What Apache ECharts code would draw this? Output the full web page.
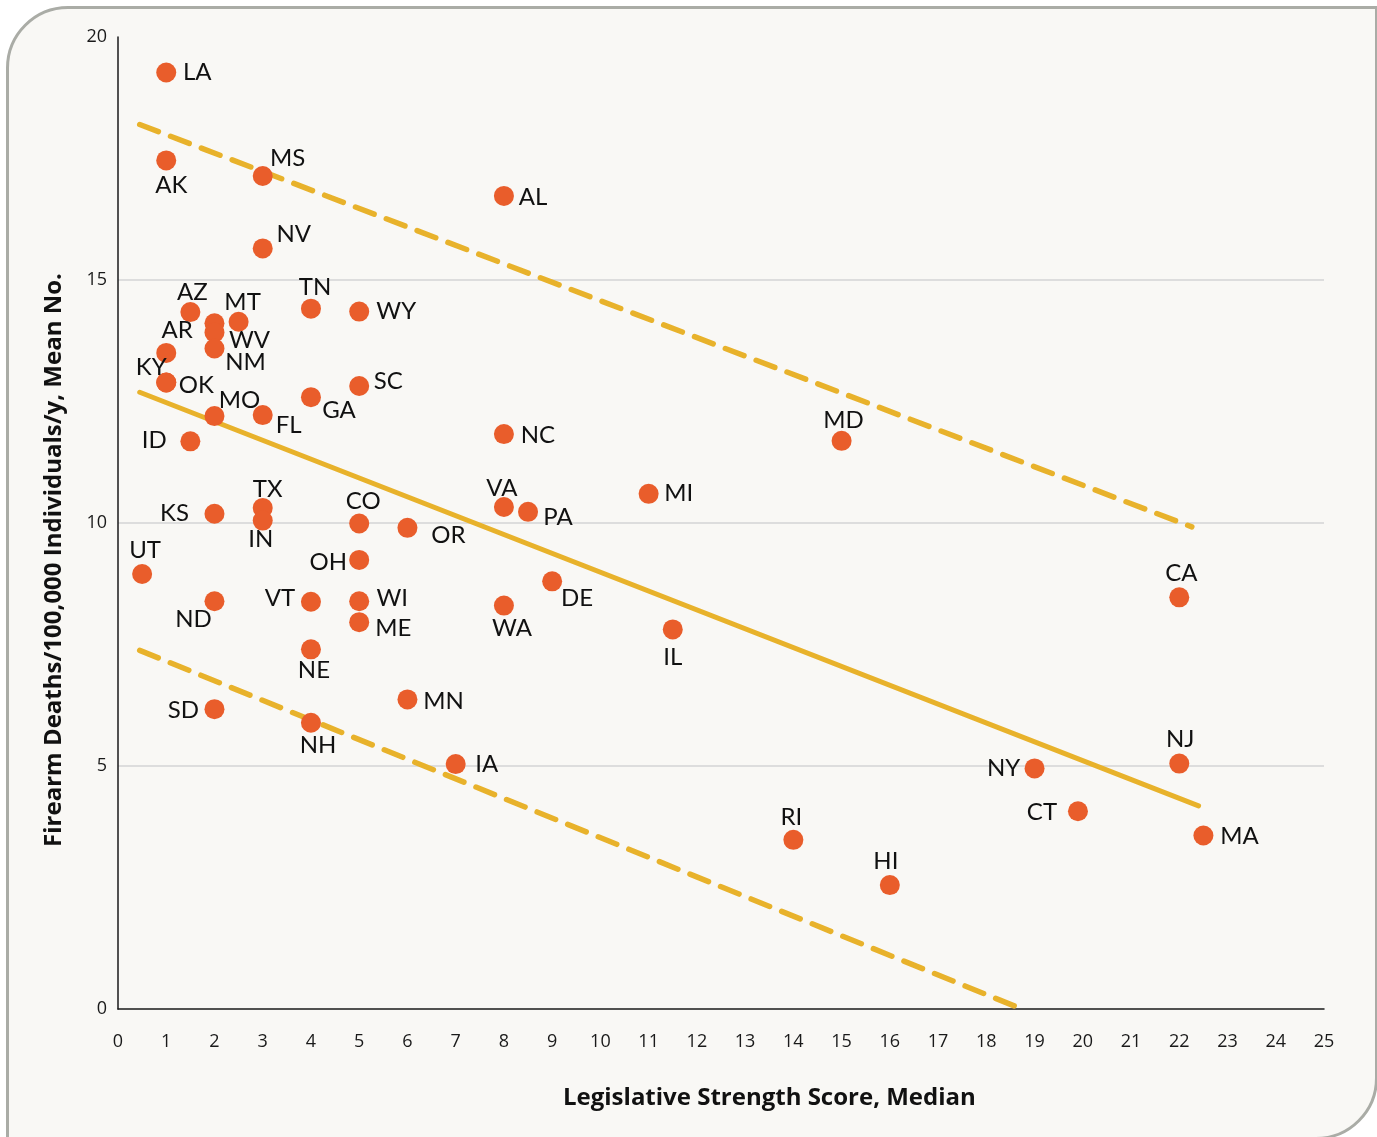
<!DOCTYPE html>
<html>
<head>
<meta charset="utf-8">
<script src="https://cdn.jsdelivr.net/npm/echarts@6/dist/echarts.min.js"></script>
<style>
  html, body { margin: 0; padding: 0; background: #ffffff; }
  #frame { position: absolute; left: 6px; top: 6px; width: 1366px; height: 1128px;
           background: #f9f8f5; border: 3px solid #aaaca6; border-radius: 62px 0 62px 0; }
  #chart { position: absolute; left: 0; top: 0; width: 1377px; height: 1137px; }
</style>
</head>
<body>
<div id="frame"></div>
<div id="chart"></div>
<script>
// ---- data ----
const states = ['LA','AK','MS','NV','AL','AZ','MT','','WV','NM','TN','WY','AR','KY','OK','MO','FL','SC','GA','NC',
  'ID','MD','TX','IN','KS','CO','OR','VA','PA','MI','UT','OH','ND','VT','WI','ME','NE','DE','WA','IL',
  'CA','MN','SD','NH','IA','NJ','NY','CT','MA','RI','HI'];
const scores = [1,1,3,3,8,1.5,2.5,2,2,2,4,5,1,1,1,2,3,5,4,8,
  1.5,15,3,3,2,5,6,8,8.5,11,0.5,5,2,4,5,5,4,9,8,11.5,
  22,6,2,4,7,22,19,19.9,22.5,14,16];
const deaths = [19.27,17.46,17.14,15.65,16.73,14.34,14.14,14.11,13.92,13.59,14.41,14.35,13.50,12.89,12.89,12.20,12.22,12.82,12.59,11.83,
  11.68,11.69,10.31,10.05,10.19,9.99,9.90,10.33,10.23,10.60,8.95,9.24,8.39,8.38,8.39,7.96,7.40,8.80,8.30,7.81,
  8.47,6.37,6.17,5.89,5.04,5.05,4.95,4.07,3.57,3.48,2.55];
const fitX = [0.45, 22.4];
const fitY = [12.69, 4.18];
const upperX = [0.45, 22.26];
const upperY = [18.2, 9.92];
const lowerX = [0.45, 18.66];
const lowerY = [7.38, 0.03];
const xTitle = 'Legislative Strength Score, Median';
const yTitle = 'Firearm Deaths/100,000 Individuals/y, Mean No.';

// ---- label placement (layout only: label centre relative to dot centre, px) ----
const labelOffsets = {
  LA:[31,0], AK:[5,25], MS:[25,-18], NV:[31,-14], AL:[29,1], AZ:[2,-20], MT:[4,-20], WV:[35,8], NM:[31,14],
  TN:[4,-21], WY:[37,0], AR:[11,-23], KY:[-15,-15], OK:[30,3], MO:[25,-16], FL:[26,10], SC:[29,-5], GA:[28,13],
  NC:[34,1], ID:[-36,-1], MD:[2,-21], TX:[5,-19], IN:[-2,19], KS:[-40,-1], CO:[4,-22], OR:[41,7], VA:[-2,-19],
  PA:[30,5], MI:[30,-1], UT:[3,-24], OH:[-31,2], ND:[-21,18], VT:[-31,-3], WI:[33,-3], ME:[34,6], NE:[3,21],
  DE:[25,17], WA:[8,23], IL:[0,28], CA:[2,-24], MN:[36,2], SD:[-31,1], NH:[7,23], IA:[31,0], NJ:[1,-24],
  NY:[-31,0], CT:[-36,1], MA:[36,1], RI:[-2,-23], HI:[-4,-24]
};

const pts = states.map((s, i) => ({
  name: s,
  value: [scores[i], deaths[i]],
  label: { show: s !== '' }
}));

const gold = '#e8b22b';
const chart = echarts.init(document.getElementById('chart'), null, { renderer: 'canvas' });
chart.setOption({
  backgroundColor: 'transparent',
  animation: false,
  grid: { left: 118, right: 53, top: 37, bottom: 128, outerBoundsMode: 'none' },
  xAxis: {
    type: 'value', min: 0, max: 25, interval: 1,
    axisLine: { show: true, lineStyle: { color: '#1a1a1a', width: 1.5 } },
    axisTick: { show: false },
    splitLine: { show: false },
    axisLabel: { margin: 24, fontSize: 18, color: '#1a1a1a', fontFamily: 'Open Sans' }
  },
  yAxis: {
    type: 'value', min: 0, max: 20, interval: 5,
    axisLine: { show: true, lineStyle: { color: '#1a1a1a', width: 1.5 } },
    axisTick: { show: false },
    splitLine: { show: true, lineStyle: { color: ['transparent', '#d3d4d5', '#d3d4d5', '#d3d4d5', 'transparent'], width: 1.5 } },
    axisLabel: { margin: 11, fontSize: 18, color: '#1a1a1a', fontFamily: 'Open Sans' }
  },
  graphic: [
    { type: 'text', left: 563, top: 1086, style: { text: xTitle, font: 'bold 24px "Open Sans"', fill: '#111' } },
    { type: 'text', x: 54, y: 560, rotation: Math.PI / 2,
      style: { text: yTitle, font: 'bold 24px "Open Sans"', fill: '#111', textAlign: 'center', textVerticalAlign: 'middle' } }
  ],
  series: [
    { type: 'line', data: fitX.map((x, i) => [x, fitY[i]]), symbol: 'none', silent: true, z: 1,
      lineStyle: { color: gold, width: 5, cap: 'round' } },
    { type: 'line', data: upperX.map((x, i) => [x, upperY[i]]), symbol: 'none', silent: true, z: 1,
      lineStyle: { color: gold, width: 5.5, type: [20, 13], cap: 'round' } },
    { type: 'line', data: lowerX.map((x, i) => [x, lowerY[i]]), symbol: 'none', silent: true, z: 1,
      lineStyle: { color: gold, width: 5.5, type: [20, 13], cap: 'round' } },
    { type: 'scatter', data: pts, symbolSize: 20, z: 3,
      itemStyle: { color: '#e95d2b', opacity: 1 },
      label: { show: true, position: 'inside', formatter: '{b}', fontSize: 24, color: '#111',
               fontFamily: 'Lato', align: 'center', verticalAlign: 'middle' },
      labelLayout: function (params) {
        const off = labelOffsets[states[params.dataIndex]] || [0, 0];
        return { dx: off[0], dy: off[1], hideOverlap: false };
      }
    }
  ]
});
</script>
</body>
</html>
